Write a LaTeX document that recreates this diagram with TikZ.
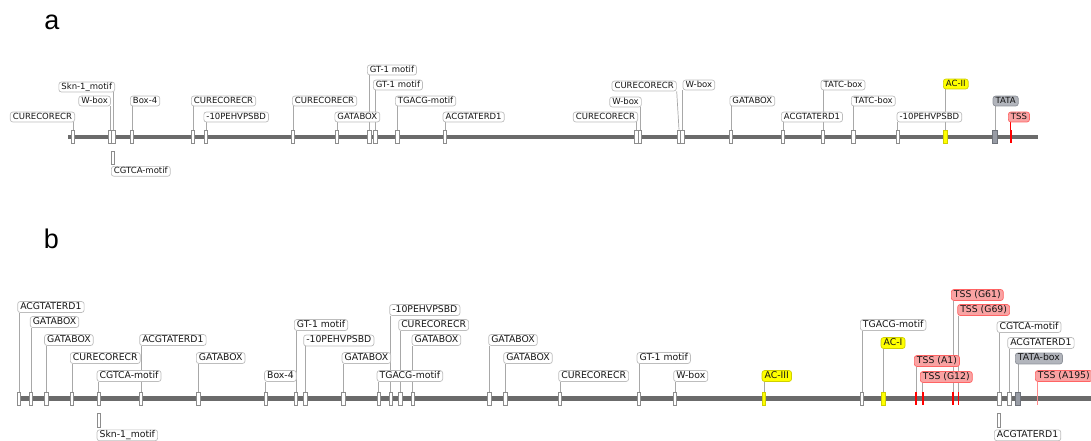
\documentclass[tikz,border=0pt]{standalone}
\usepackage{fontspec}
\setmainfont{DejaVu Sans}
\newfontfamily\panelfont{Liberation Sans}
\usetikzlibrary{backgrounds}
\definecolor{cLine}{HTML}{6B6B6B}
\definecolor{cSite}{HTML}{8C8C8C}
\definecolor{cLead}{HTML}{A8A8A8}
\definecolor{cTag}{HTML}{BDBDBD}
\definecolor{cText}{HTML}{151515}
\definecolor{cYel}{HTML}{FFFF00}
\definecolor{cYelD}{HTML}{D0D000}
\definecolor{cTata}{HTML}{B2B5BC}
\definecolor{cTataD}{HTML}{8E929A}
\definecolor{cTataS}{HTML}{989CA5}
\definecolor{cTataE}{HTML}{6E727A}
\definecolor{cTss}{HTML}{FF0000}
\definecolor{cTssW}{HTML}{FF8A8A}
\definecolor{cTssF}{HTML}{F9A3A3}
\definecolor{cTssD}{HTML}{FF6464}
\tikzset{
  backbone/.style={cLine,line width=4.5pt},
  site/.style={rectangle,draw=cSite,line width=0.7pt,fill=white,minimum width=3.6pt,minimum height=13pt,inner sep=0pt},
  site-plain/.style={site},
  site-ac/.style={site,fill=cYel,draw=cYelD},
  site-tata/.style={site,fill=cTataS,draw=cTataE,minimum width=5pt},
  site-tss/.style={site,draw=none,fill=cTss,minimum width=1.8pt},
  site-tssr/.style={site-tss},
  site-tssw/.style={site,draw=none,fill=cTssW,minimum width=1.4pt},
  tagsize/.style={},
  tag/.style={rounded corners=2.5pt,draw=cTag,line width=0.7pt,fill=white,inner xsep=2.6pt,text=cText,tagsize},
  tag-plain/.style={tag},
  tag-ac/.style={tag,fill=cYel,draw=cYelD},
  tag-tata/.style={tag,fill=cTata,draw=cTataD},
  tag-tss/.style={tag,fill=cTssF,draw=cTssD},
  tag-tssr/.style={tag-tss},
  tag-tssw/.style={tag-tss},
  leader/.style={draw=cLead,line width=0.7pt},
  leader-plain/.style={leader},
  leader-ac/.style={leader},
  leader-tata/.style={leader},
  leader-tss/.style={leader},
  leader-tssr/.style={leader,draw=cTss,line width=1.4pt},
  leader-tssw/.style={leader,draw=cTssW,line width=1.2pt},
  panel/.style={font=\panelfont\fontsize{27}{30}\selectfont,inner sep=0pt},
}

\begin{document}
\begin{tikzpicture}[x=1pt,y=-1pt]
  \useasboundingbox (0,0) rectangle (1091,440);
  \clip (0,0) rectangle (1091,440);

  % panel a
  \begin{scope}[tagsize/.style={font=\fontsize{8.5}{9}\selectfont,text height=6.2pt,text depth=1.7pt,inner ysep=1pt}]
  \node[panel] (pa) at (52,22) {a};
  \coordinate (a-start) at (68,137);
  \coordinate (a-end) at (1038,137);
  \draw[backbone] (a-start) -- (a-end);
  \foreach \ex/\lx/\ly/\an/\tx/\st [count=\i] in {
      73/75/117/east/CURECORECR/plain,
      110/110.8/101/east/W-box/plain,
      113.3/115/87/east/Skn-1\_motif/plain,
      132/130/101/west/Box-4/plain,
      193/191/101/west/CURECORECR/plain,
      206/203.5/117/west/-10PEHVPSBD/plain,
      293/292/101/west/CURECORECR/plain,
      337/334.5/117/west/GATABOX/plain,
      369.3/367/70/west/GT-1 motif/plain,
      375.3/373/85/west/GT-1 motif/plain,
      397.3/395/101/west/TGACG-motif/plain,
      445/442.7/117/west/ACGTATERD1/plain,
      636.5/638/117/east/CURECORECR/plain,
      640/641.7/102/east/W-box/plain,
      682.5/682.7/85/west/W-box/plain,
      731/729.5/101/west/GATABOX/plain,
      783/781/117/west/ACGTATERD1/plain,
      823/820.7/85/west/TATC-box/plain,
      853.3/851/101/west/TATC-box/plain,
      897.7/896.7/117/west/-10PEHVPSBD/plain,
      945.5/943/84/west/AC-II/ac,
      995/992.7/101/west/TATA/tata,
      1010.7/1008/117/west/TSS/tssr}{
    \node[site-\st] (ae\i) at (\ex,136.5) {};
    \node[tag-\st,anchor=\an] (al\i) at (\lx,\ly) {\tx};
    \begin{pgfonlayer}{background}
      \draw[leader-\st] (ae\i.north) -- (ae\i.north |- al\i.south);
    \end{pgfonlayer}
  }
  % leaning leader
  \node[site-plain] (ae-x) at (679,136.5) {};
  \node[tag-plain,anchor=east] (al-x) at (676.7,86) {CURECORECR};
  \begin{pgfonlayer}{background}
    \draw[leader] (ae-x.north) -- (al-x.south east);
  \end{pgfonlayer}
  % minus strand
  \node[site-plain] (ae-m) at (113,157.5) {};
  \node[tag-plain,anchor=north west] (al-m) at (111,166) {CGTCA-motif};
  \end{scope}

  % panel b
  \begin{scope}[tagsize/.style={font=\fontsize{9.3}{10}\selectfont,text height=6.8pt,text depth=1.9pt,inner ysep=1.1pt}]
  \node[panel] (pb) at (51.5,239) {b};
  \coordinate (b-start) at (17,398.3);
  \coordinate (b-end) at (1095,398.3);
  \draw[backbone] (b-start) -- (b-end);
  \foreach \ex/\lx/\ly/\an/\tx/\st [count=\i] in {
      19/17.3/307/west/ACGTATERD1/plain,
      31/29.8/322/west/GATABOX/plain,
      46.5/44.2/340/west/GATABOX/plain,
      72/70/358/west/CURECORECR/plain,
      98.7/96.7/376/west/CGTCA-motif/plain,
      141/139.3/340/west/ACGTATERD1/plain,
      198.3/196/358/west/GATABOX/plain,
      265.8/264.2/376/west/Box-4/plain,
      296/294/325/west/GT-1 motif/plain,
      305.3/303.3/340.5/west/-10PEHVPSBD/plain,
      343.3/341.7/358/west/GATABOX/plain,
      378.7/376.7/376/west/TGACG-motif/plain,
      390.7/389.3/310/west/-10PEHVPSBD/plain,
      400.3/398.3/325/west/CURECORECR/plain,
      412.7/411.7/340/west/GATABOX/plain,
      489.3/488.3/340/west/GATABOX/plain,
      505.3/503.3/358/west/GATABOX/plain,
      560/558.3/376/west/CURECORECR/plain,
      639/636.7/358/west/GT-1 motif/plain,
      675/673.3/376/west/W-box/plain,
      764/761.7/376/west/AC-III/ac,
      862/860/325/west/TGACG-motif/plain,
      883.2/880.7/343/west/AC-I/ac,
      916/914/361/west/TSS (A1)/tss,
      922.7/920/377/west/TSS (G12)/tss,
      953.3/951/295/west/TSS (G61)/tss,
      958.5/957.3/310/west/TSS (G69)/tss,
      999.3/996.7/327/west/CGTCA-motif/plain,
      1009.3/1007.3/343/west/ACGTATERD1/plain,
      1018/1015/358.5/west/TATA-box/tata,
      1037.3/1035/376/west/TSS (A195)/tssw}{
    \node[site-\st] (be\i) at (\ex,398.5) {};
    \node[tag-\st,anchor=\an] (bl\i) at (\lx,\ly) {\tx};
    \begin{pgfonlayer}{background}
      \draw[leader-\st] (be\i.north) -- (be\i.north |- bl\i.south);
    \end{pgfonlayer}
  }
  % minus strand
  \node[site-plain,minimum height=14pt] (be-m1) at (99,420) {};
  \node[tag-plain,anchor=north west] (bl-m1) at (96.7,429.5) {Skn-1\_motif};
  \node[site-plain,minimum height=14pt] (be-m2) at (999,420) {};
  \node[tag-plain,anchor=north west] (bl-m2) at (994,429.5) {ACGTATERD1};
  \end{scope}
\end{tikzpicture}
\end{document}
